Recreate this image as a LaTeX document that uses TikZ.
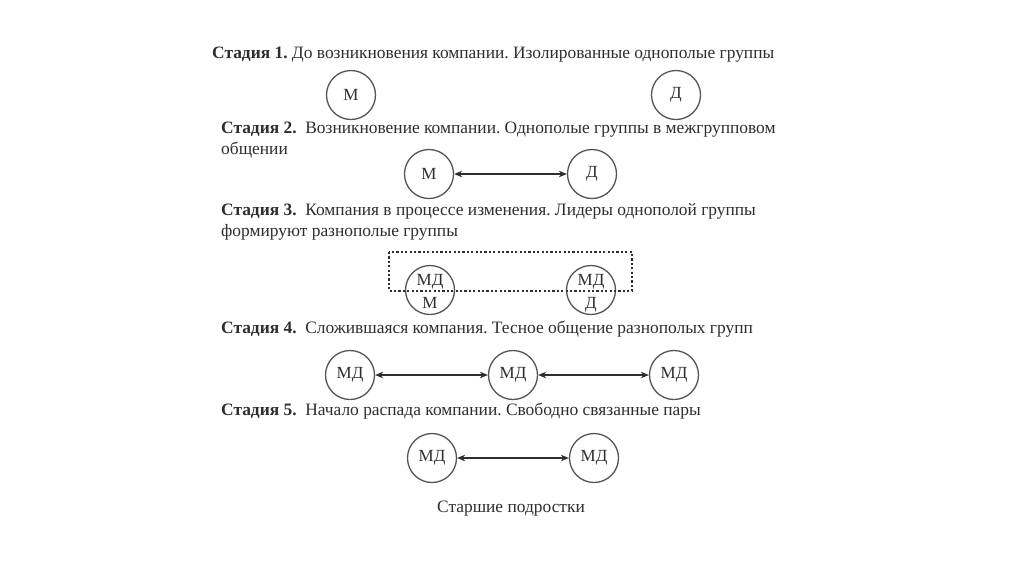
\documentclass[tikz,border=0pt]{standalone}
\usepackage{fontspec}
\setmainfont{Liberation Serif}
\usetikzlibrary{arrows.meta}
\definecolor{ink}{HTML}{2E2E2E}
\definecolor{line}{HTML}{555555}
\frenchspacing
\begin{document}
\begin{tikzpicture}[x=1pt,y=-1pt,
  grp/.style={circle,draw=line,line width=1.3pt,minimum size=49pt,inner sep=0pt,text=ink,font=\fontsize{17}{19}\selectfont},
  txt/.style={anchor=base west,inner sep=0pt,text=ink,font=\fontsize{17.4}{20}\selectfont},
  link/.style={{Stealth[length=8pt,width=6.5pt]}-{Stealth[length=8pt,width=6.5pt]},line width=1.2pt,draw=ink},
  lbl/.style={inner sep=0pt,text=ink,font=\fontsize{17}{19}\selectfont}]
\useasboundingbox[fill=white] (0,0) rectangle (1024,574);
% Stage 1
\node[txt] (t1) at (212,58) {\textbf{Стадия 1.} До возникновения компании. Изолированные однополые группы};
\node[grp] (m1) at (351,95) {М};
\node[grp] (d1) at (676,95) {Д};
% Stage 2
\node[txt] (t2) at (221,133) {\textbf{Стадия 2.}\ \ Возникновение компании. Однополые группы в межгрупповом};
\node[txt] (t2b) at (221,154) {общении};
\node[grp] (m2) at (429,174) {М};
\node[grp] (d2) at (592,174) {Д};
\draw[link] (m2) -- (d2);
% Stage 3
\node[txt] (t3) at (221,215) {\textbf{Стадия 3.}\ \ Компания в процессе изменения. Лидеры однополой группы};
\node[txt] (t3b) at (221,236) {формируют разнополые группы};
\node[grp] (c3a) at (430,290) {};
\node[grp] (c3b) at (591,290) {};
\node[lbl,anchor=base] (c3at) at (430,285) {МД};
\node[lbl,anchor=base] (c3ab) at (430,308) {М};
\node[lbl,anchor=base] (c3bt) at (591,285) {МД};
\node[lbl,anchor=base] (c3bb) at (591,308) {Д};
\draw[draw=ink,line width=1.1pt,dash pattern=on 2.2pt off 2.2pt] (389,252) rectangle (632,291);
% Stage 4
\node[txt] (t4) at (221,333) {\textbf{Стадия 4.}\ \ Сложившаяся компания. Тесное общение разнополых групп};
\node[grp] (a4) at (350,375) {МД};
\node[grp] (b4) at (513,375) {МД};
\node[grp] (c4) at (674,375) {МД};
\draw[link] (a4) -- (b4);
\draw[link] (b4) -- (c4);
% Stage 5
\node[txt] (t5) at (221,415) {\textbf{Стадия 5.}\ \ Начало распада компании. Свободно связанные пары};
\node[grp] (a5) at (432,458) {МД};
\node[grp] (b5) at (594,458) {МД};
\draw[link] (a5) -- (b5);
\node[lbl,anchor=base,font=\fontsize{17.4}{20}\selectfont] (cap) at (511,512) {Старшие подростки};
\end{tikzpicture}
\end{document}
